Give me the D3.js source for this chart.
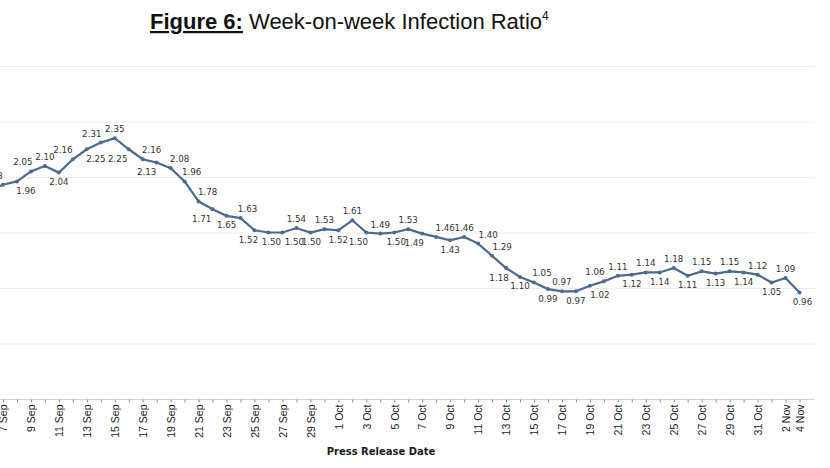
<!DOCTYPE html>
<html>
<head>
<meta charset="utf-8">
<script src="https://cdn.jsdelivr.net/npm/d3@7"></script>
<style>
  body { margin: 0; background: #fff; }
  svg { display: block; }
</style>
</head>
<body>
<div id="chart"></div>
<script>
// Press release dates (3 Nov has no release)
var dates = [
  "6 Sep","7 Sep","8 Sep","9 Sep","10 Sep","11 Sep","12 Sep","13 Sep","14 Sep","15 Sep",
  "16 Sep","17 Sep","18 Sep","19 Sep","20 Sep","21 Sep","22 Sep","23 Sep","24 Sep","25 Sep",
  "26 Sep","27 Sep","28 Sep","29 Sep","30 Sep",
  "1 Oct","2 Oct","3 Oct","4 Oct","5 Oct","6 Oct","7 Oct","8 Oct","9 Oct","10 Oct",
  "11 Oct","12 Oct","13 Oct","14 Oct","15 Oct","16 Oct","17 Oct","18 Oct","19 Oct","20 Oct",
  "21 Oct","22 Oct","23 Oct","24 Oct","25 Oct","26 Oct","27 Oct","28 Oct","29 Oct","30 Oct",
  "31 Oct","1 Nov","2 Nov","4 Nov"
];

// Week-on-week infection ratio
var ratio = [
  1.88, 1.93, 1.96, 2.05, 2.10, 2.04, 2.16, 2.25, 2.31, 2.35,
  2.25, 2.16, 2.13, 2.08, 1.96, 1.78, 1.71, 1.65, 1.63, 1.52,
  1.50, 1.50, 1.54, 1.50, 1.53,
  1.52, 1.61, 1.50, 1.49, 1.50, 1.53, 1.49, 1.46, 1.43, 1.46,
  1.40, 1.29, 1.18, 1.10, 1.05, 0.99, 0.97, 0.97, 1.02, 1.06,
  1.11, 1.12, 1.14, 1.14, 1.18, 1.11, 1.15, 1.13, 1.15, 1.14,
  1.12, 1.05, 1.09, 0.96
];

// Labelled dates on the x axis
var tickLabels = [
  "5 Sep","7 Sep","9 Sep","11 Sep","13 Sep","15 Sep","17 Sep","19 Sep","21 Sep","23 Sep",
  "25 Sep","27 Sep","29 Sep","1 Oct","3 Oct","5 Oct","7 Oct","9 Oct","11 Oct","13 Oct",
  "15 Oct","17 Oct","19 Oct","21 Oct","23 Oct","25 Oct","27 Oct","29 Oct","31 Oct","2 Nov","4 Nov"
];

var gridValues = [0.5, 1.0, 1.5, 2.0, 2.5, 3.0];

// where each data label sits: side (u = above, d = below) and horizontal nudge
var labelSide = [
  "d","u","d","u","u","d","u","d","u","u",
  "d","u","d","u","u","u","d","d","u","d",
  "d","d","u","d","u",
  "d","u","d","u","d","u","d","u","d","u",
  "u","u","d","d","u","d","u","d","d","u",
  "u","d","u","d","u","d","u","d","u","d",
  "u","d","u","d"
];
var labelDx = [
  0,-10, 9,-8, 0, 0,-10, 9,-9, 0,
  -11, 9,-10, 9, 7, 9,-11, 0, 7,-6,
  3, 12, 0, 1, 0,
  0, 0,-8, 0, 2, 0,-8, 9, 0, 0,
  10, 10,-7, 0, 8, 0, 0, 0, 10,-9,
  0, 0, 0, 0, 0, 0, 0, 0, 0, 0,
  0, 0, 0, 3
];

var width = 830, height = 468;
var margin = { top: 66, bottom: 69 };
var plotBottom = height - margin.bottom; // 399

var svg = d3.select("#chart").append("svg")
  .attr("width", width)
  .attr("height", height)
  .style("font-family", "'DejaVu Sans', Verdana, sans-serif");

svg.append("rect").attr("width", width).attr("height", height).attr("fill", "#fff");

var x = d3.scalePoint()
  .domain(dates)
  .range([-11, 799.5]);

var y = d3.scaleLinear()
  .domain([0, 3])
  .range([plotBottom, margin.top]);

// Title
var title = svg.append("text")
  .attr("x", 150)
  .attr("y", 29)
  .style("font-family", "'Liberation Sans', Arial, sans-serif")
  .style("font-size", "22px")
  .attr("fill", "#111");
title.append("tspan")
  .style("font-weight", "bold")
  .style("text-decoration", "underline")
  .text("Figure 6:");
title.append("tspan").text(" Week-on-week Infection Ratio");
title.append("tspan")
  .attr("dy", -9)
  .style("font-size", "12px")
  .text("4");

// Gridlines
svg.append("g")
  .selectAll("line")
  .data(gridValues)
  .enter().append("line")
  .attr("x1", 0)
  .attr("x2", 815)
  .attr("y1", d => y(d) + 0.5)
  .attr("y2", d => y(d) + 0.5)
  .attr("stroke", "#ececec")
  .attr("stroke-width", 1);

// X axis
var xAxis = d3.axisBottom(x)
  .tickSize(3)
  .tickSizeOuter(0)
  .tickFormat(d => tickLabels.indexOf(d) >= 0 ? d : "");

var gx = svg.append("g")
  .attr("transform", "translate(0," + (plotBottom + 0.5) + ")")
  .call(xAxis);

gx.select(".domain")
  .attr("d", "M0,0H815")
  .attr("stroke", "#d4d4d4");
gx.selectAll(".tick line").attr("stroke", "#8a8a8a");
gx.selectAll(".tick text")
  .attr("transform", "rotate(-90)")
  .attr("x", -5)
  .attr("y", 0)
  .attr("dy", "0.36em")
  .style("text-anchor", "end")
  .style("font-size", "10.5px")
  .attr("fill", "#1a1a1a");

svg.append("text")
  .attr("x", 381)
  .attr("y", 455)
  .attr("text-anchor", "middle")
  .style("font-size", "10px")
  .style("font-weight", "bold")
  .attr("fill", "#1a1a1a")
  .text("Press Release Date");

// Line
var points = dates.map((d, i) => ({ date: d, value: ratio[i], side: labelSide[i], dx: labelDx[i] }));

var line = d3.line()
  .x(d => x(d.date))
  .y(d => y(d.value));

svg.append("path")
  .datum(points)
  .attr("d", line)
  .attr("fill", "none")
  .attr("stroke", "#4b6a8e")
  .attr("stroke-width", 2.2);

svg.append("g")
  .selectAll("circle")
  .data(points)
  .enter().append("circle")
  .attr("cx", d => x(d.date))
  .attr("cy", d => y(d.value))
  .attr("r", 2)
  .attr("fill", "#4b6a8e");

// Data labels
svg.append("g")
  .selectAll("text")
  .data(points)
  .enter().append("text")
  .attr("x", d => x(d.date) + d.dx)
  .attr("y", d => y(d.value) + (d.side === "u" ? -6 : 12.5))
  .attr("text-anchor", "middle")
  .style("font-size", "8.7px")
  .attr("fill", "#333")
  .text(d => d.value.toFixed(2));
</script>
</body>
</html>
